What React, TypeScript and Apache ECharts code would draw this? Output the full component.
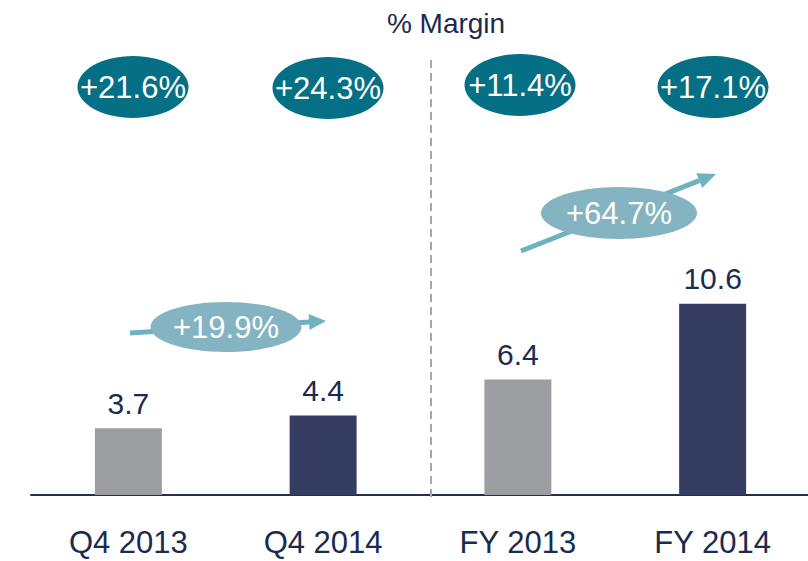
import React, { useEffect, useRef } from "react";
import * as echarts from "echarts";

const categories = ["Q4 2013", "Q4 2014", "FY 2013", "FY 2014"];
const values = [3.7, 4.4, 6.4, 10.6];
const barColors = ["#9d9ea1", "#363d63", "#9d9ea1", "#363d63"];
const margins = ["+21.6%", "+24.3%", "+11.4%", "+17.1%"];
const growth = ["+19.9%", "+64.7%"];
const titleText = "% Margin";

const NAVY = "#1b2a4f";
const TEAL = "#056f85";
const LIGHT = "#84b3c1";
const ARROW = "#70b1c0";
const FONT = "'Liberation Sans', Arial, sans-serif";

function arrow(x1: number, y1: number, x2: number, y2: number, head: number, half: number) {
  const dx = x2 - x1;
  const dy = y2 - y1;
  const len = Math.sqrt(dx * dx + dy * dy);
  const ux = dx / len;
  const uy = dy / len;
  const bx = x2 - ux * head;
  const by = y2 - uy * head;
  const nx = -uy;
  const ny = ux;
  return [
    {
      type: "line",
      z: 10,
      shape: { x1, y1, x2: bx, y2: by },
      style: { stroke: ARROW, lineWidth: 5 },
    },
    {
      type: "polygon",
      z: 10,
      shape: {
        points: [
          [x2, y2],
          [bx + nx * half, by + ny * half],
          [bx - nx * half, by - ny * half],
        ],
      },
      style: { fill: ARROW },
    },
  ];
}

function bubble(cx: number, cy: number, rx: number, ry: number, fill: string, text: string) {
  return [
    {
      type: "ellipse",
      z: 11,
      shape: { cx, cy, rx, ry },
      style: { fill },
    },
    {
      type: "text",
      z: 12,
      x: cx,
      y: cy,
      style: {
        text,
        fill: "#ffffff",
        font: `31px ${FONT}`,
        textAlign: "center",
        textVerticalAlign: "middle",
      },
    },
  ];
}

export default function App() {
  const ref = useRef<HTMLDivElement>(null);

  useEffect(() => {
    if (!ref.current) return;
    const chart = echarts.init(ref.current, undefined, { renderer: "svg" });
    const topCenters = [
      [133, 87],
      [328, 88],
      [520, 85],
      [713, 87],
    ];
    const graphics: any[] = [
      {
        type: "text",
        x: 446,
        y: 23,
        style: {
          text: titleText,
          fill: NAVY,
          font: `28px ${FONT}`,
          textAlign: "center",
          textVerticalAlign: "middle",
        },
      },
      {
        type: "line",
        z: 5,
        shape: { x1: 431, y1: 60, x2: 431, y2: 500 },
        style: { stroke: "#a6a6a6", lineWidth: 2, lineDash: [8, 5] },
      },
      ...margins.flatMap((m, i) => bubble(topCenters[i][0], topCenters[i][1], 55.5, 31, TEAL, m)),
      ...arrow(130, 333, 326, 321, 17, 8),
      ...bubble(226, 327, 75.5, 25, LIGHT, growth[0]),
      ...arrow(521, 251, 716, 174, 18, 8),
      ...bubble(619, 213, 78, 26, LIGHT, growth[1]),
    ];

    chart.setOption({
      animation: false,
      textStyle: { fontFamily: FONT },
      grid: { left: 31, right: 4, top: 44, bottom: 66, containLabel: false },
      xAxis: {
        type: "category",
        data: categories,
        axisTick: { show: false },
        axisLine: { lineStyle: { color: "#1f3057", width: 2 } },
        axisLabel: { color: NAVY, fontSize: 31, margin: 32, fontFamily: FONT },
        splitLine: { show: false },
      },
      yAxis: {
        type: "value",
        min: 0,
        max: 25,
        show: false,
      },
      series: [
        {
          type: "bar",
          barWidth: 67,
          data: values.map((v, i) => ({ value: v, itemStyle: { color: barColors[i] } })),
          label: {
            show: true,
            position: "top",
            distance: 10,
            color: NAVY,
            fontSize: 30,
            fontFamily: FONT,
          },
        },
      ],
      graphic: graphics,
    });
    return () => chart.dispose();
  }, []);

  return (
    <div
      style={{
        position: "fixed",
        left: 0,
        top: 0,
        width: 808,
        height: 561,
        overflow: "hidden",
        background: "#ffffff",
      }}
    >
      <div ref={ref} style={{ width: 814, height: 561 }} />
    </div>
  );
}
